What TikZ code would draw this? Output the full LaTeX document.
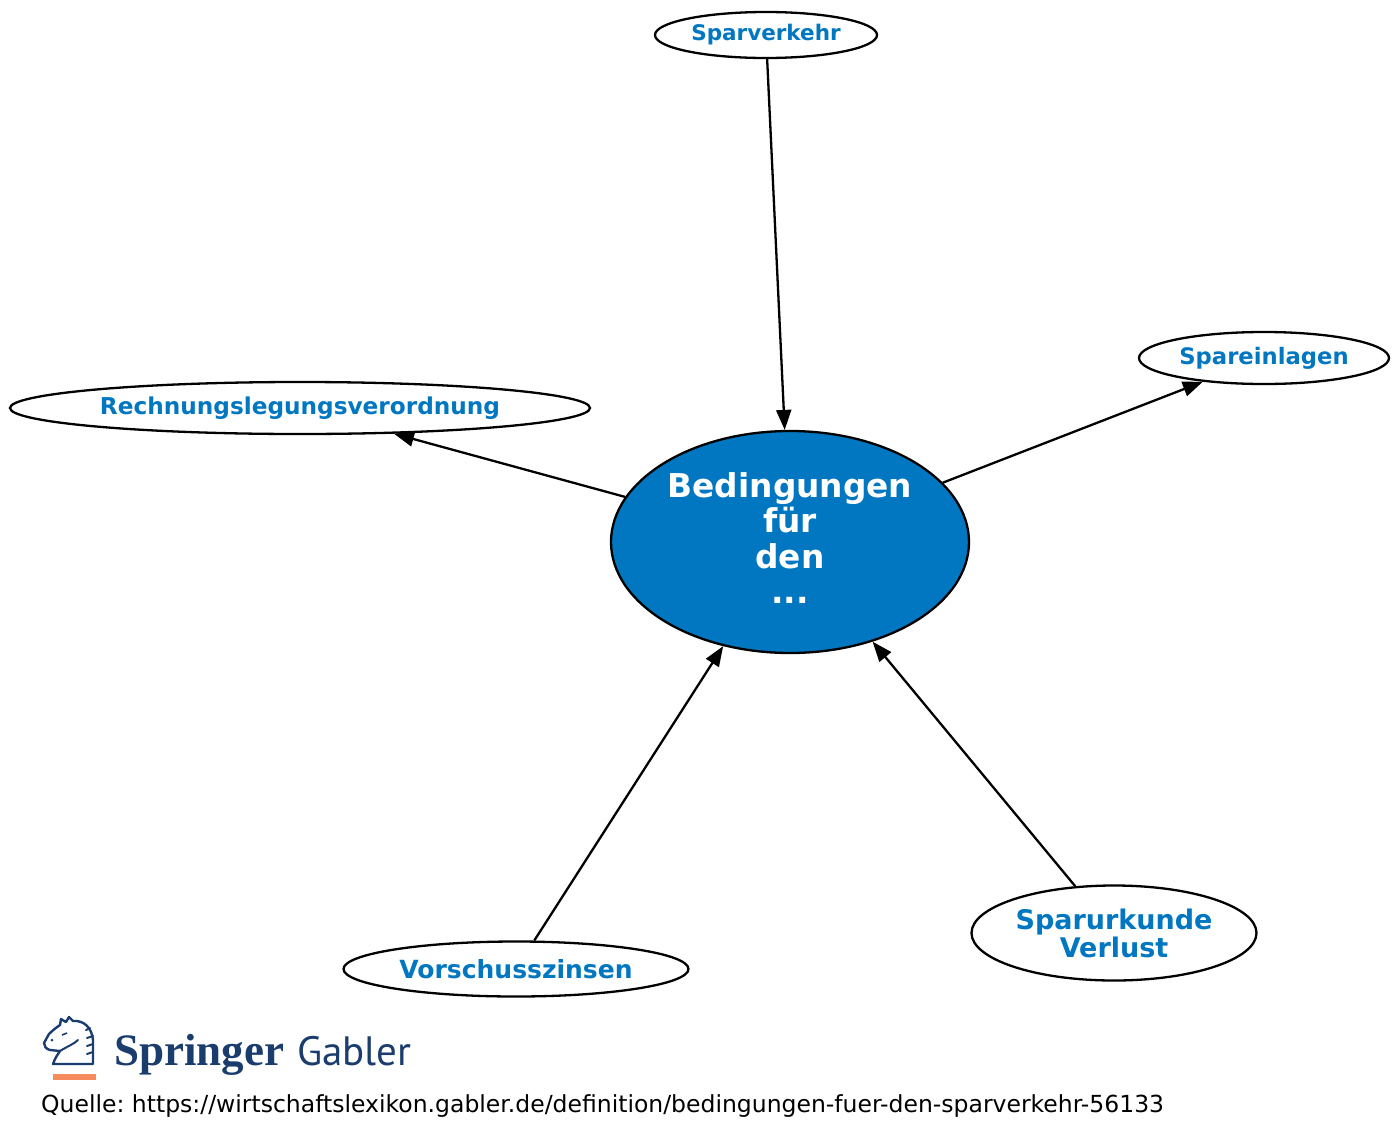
\documentclass[tikz,border=0pt]{standalone}
\usepackage{fontspec}
\setmainfont{DejaVu Sans}
\newfontfamily\springerserif{Liberation Serif}
\newfontfamily\gablersans{PT Sans}
\usetikzlibrary{shapes.geometric,arrows.meta}
\definecolor{nodeblue}{HTML}{0077C0}
\definecolor{springerblue}{HTML}{1B3D6D}
\definecolor{springerorange}{HTML}{F68B5E}
\tikzset{
  outer/.style={ellipse,draw=black,line width=2.3pt,fill=white,inner sep=0pt,
    text=nodeblue,font=\bfseries,align=center},
  hub/.style={ellipse,draw=black,line width=2.3pt,fill=nodeblue,inner sep=0pt},
  link/.style={line width=2.3pt,-{Triangle[length=20pt,width=15pt]}},
}
\begin{document}
\begin{tikzpicture}[x=1pt,y=-1pt]
\useasboundingbox (0,0) rectangle (1400,1146);
\node[hub,minimum width=358pt,minimum height=222pt] (hub) at (790,542) {};
\node[text=white,align=center,inner sep=0pt,
  font=\bfseries\fontsize{32.8}{35.5}\selectfont] (hubtext) at (790,538)
  {Bedingungen\\für\\den\\...};
\node[outer,minimum width=222pt,minimum height=46pt,font=\bfseries\fontsize{21.5}{24}\selectfont]
  (spv) at (766,35) {Sparverkehr};
\node[outer,minimum width=580pt,minimum height=52pt,font=\bfseries\fontsize{23.2}{26}\selectfont]
  (rlv) at (300,408) {Rechnungslegungsverordnung};
\node[outer,minimum width=250pt,minimum height=52pt,font=\bfseries\fontsize{22.7}{26}\selectfont]
  (spe) at (1264,358) {Spareinlagen};
\node[outer,minimum width=345pt,minimum height=55pt,font=\bfseries\fontsize{25}{28}\selectfont]
  (vsz) at (516,969) {Vorschusszinsen};
\node[outer,minimum width=285pt,minimum height=95pt,font=\bfseries\fontsize{27}{28}\selectfont]
  (suv) at (1114,933) {Sparurkunde\\Verlust};
\draw[link] (spv) -- (hub);
\draw[link] (hub) -- (rlv);
\draw[link] (hub) -- (spe);
\draw[link] (vsz) -- (hub);
\draw[link] (suv) -- (hub);
% logo
\fill[springerorange] (53,1074) rectangle (96,1079.5);
\draw[springerblue,line width=2.4pt,line join=round,line cap=round]
  (53,1064) .. controls (55,1058) and (58,1054) .. (60,1051)
  -- (50,1050) .. controls (46,1049) and (44,1046) .. (44,1043)
  -- (49,1034) .. controls (53,1030) and (57,1027) .. (60,1025)
  -- (61,1019) -- (66,1022) -- (69,1017) -- (73,1021)
  .. controls (84,1020) and (92,1028) .. (93,1040)
  -- (93,1064) -- cycle;
\draw[springerblue,line width=2pt,line cap=round]
  (60,1051) .. controls (68,1046) and (74,1044) .. (78,1040);
\draw[springerblue,line width=2pt,line cap=round]
  (86,1030) -- (90,1028) (87,1038) -- (93,1036) (87,1046) -- (93,1044) (87,1054) -- (93,1052);
\fill[springerblue] (52,1040) circle (1.5);
\draw[springerblue,line width=1.6pt] (62,1035) -- (67,1033);
\node[anchor=base west,inner sep=0pt,text=springerblue,
  font=\springerserif\bfseries\fontsize{45}{50}\selectfont] (spr) at (114,1065) {Springer};
\node[anchor=base west,inner sep=0pt,text=springerblue,
  font=\gablersans\fontsize{41}{46}\selectfont] (gab) at (297,1065) {Gabler};
\node[anchor=base west,inner sep=0pt,font=\fontsize{23.5}{26}\selectfont] (src) at (41,1112)
  {Quelle:\ https://wirtschaftslexikon.gabler.de/definition/bedingungen-fuer-den-sparverkehr-56133};
\end{tikzpicture}
\end{document}
